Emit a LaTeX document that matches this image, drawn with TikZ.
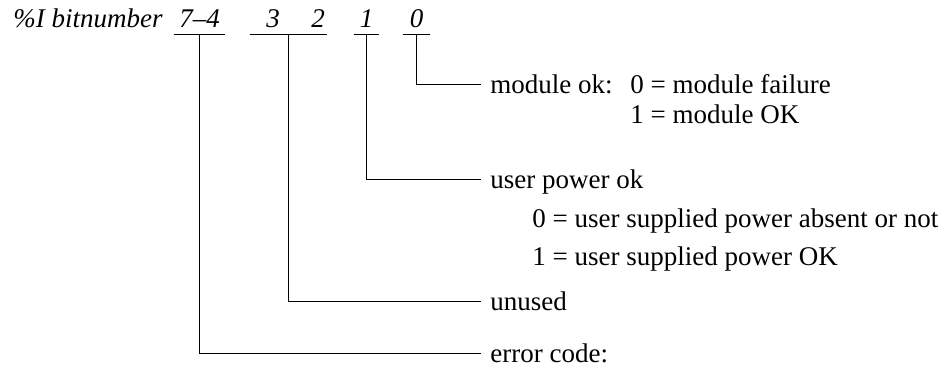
\documentclass[tikz,border=0pt]{standalone}
\usepackage{fontspec}
\setmainfont{Liberation Serif}
\usetikzlibrary{calc}

\begin{document}
\begin{tikzpicture}[x=1pt, y=-1pt, line width=0.9pt,
  every node/.style={font=\fontsize{27}{32}\selectfont},
  bit/.style={anchor=base, inner sep=0pt, text depth=7pt, font=\fontsize{27}{32}\selectfont\itshape},
  lbl/.style={anchor=base west, inner ysep=0pt, inner xsep=9pt, text height=18pt, text depth=0pt},
  val/.style={anchor=base west, inner sep=0pt}]
\useasboundingbox (0,0) rectangle (944,368);
\node[anchor=base west, inner sep=0pt, font=\fontsize{27}{32}\selectfont\itshape] (hdr) at (13,27){\%I bitnumber};
\node[bit, minimum width=51pt] (b74) at (199.5,27){7--4};
\node[bit, minimum width=46pt] (b3) at (273,27){3};
\node[bit, minimum width=18pt] (b2) at (318,27){2};
\node[bit, minimum width=24pt] (b1) at (366.5,27){1};
\node[bit, minimum width=27pt] (b0) at (416.5,27){0};
\draw (b74.south west) -- (b74.south east);
\draw (b3.south west) -- (b2.south east);
\draw (b1.south west) -- (b1.south east);
\draw (b0.south west) -- (b0.south east);
\node[lbl] (modok) at (481,93){module ok:};
\node[val] (mod0) at (630,93){0 = module failure};
\node[val] (mod1) at (630,123){1 = module OK};
\node[lbl] (pwrok) at (481,188){user power ok};
\node[val] (pwr0) at (532,227){0 = user supplied power absent or not};
\node[val] (pwr1) at (532,265){1 = user supplied power OK};
\node[lbl] (unused) at (481,310){unused};
\node[lbl] (errcode) at (481,362){error code:};
\draw (b0.south) |- (modok.west);
\draw (b1.south) |- (pwrok.west);
\draw ($(b3.south west)!.5!(b2.south east)$) |- (unused.west);
\draw (b74.south) |- (errcode.west);
\end{tikzpicture}
\end{document}
